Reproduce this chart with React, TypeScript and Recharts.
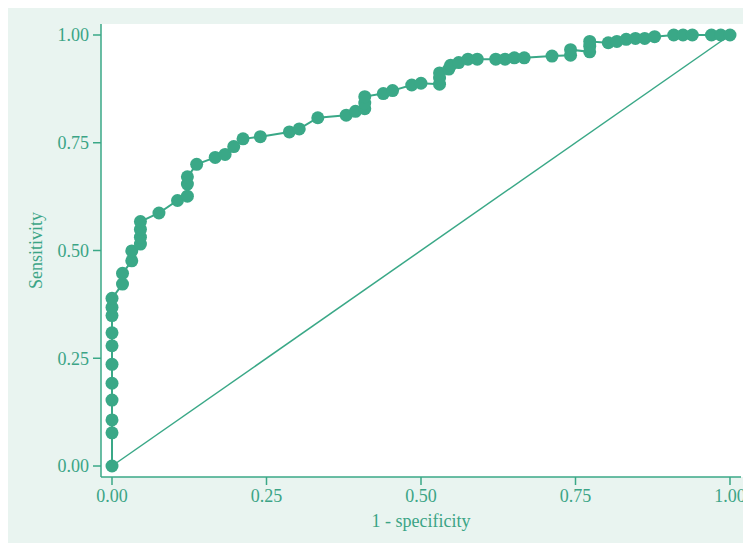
import React from "react";
import {
  ScatterChart,
  Scatter,
  XAxis,
  YAxis,
  ReferenceLine,
} from "recharts";

// 1 - specificity for each cut-off
const fpr = [
  0, 0, 0, 0, 0, 0, 0, 0, 0, 0, 0,
  0.017, 0.017,
  0.032, 0.032,
  0.046, 0.046, 0.046, 0.046,
  0.076, 0.106,
  0.122, 0.122, 0.122,
  0.137, 0.167, 0.183, 0.197, 0.212, 0.24,
  0.287, 0.303, 0.333, 0.379, 0.394,
  0.409, 0.409, 0.409,
  0.439, 0.454, 0.485, 0.5,
  0.53, 0.53, 0.53,
  0.545, 0.548, 0.561, 0.576, 0.591,
  0.621, 0.636, 0.651, 0.667,
  0.712, 0.742, 0.742,
  0.773, 0.773, 0.773,
  0.803, 0.817, 0.832, 0.847, 0.862, 0.878,
  0.909, 0.924, 0.939,
  0.97, 0.985, 1,
];

// sensitivity at the same cut-offs
const tpr = [
  0, 0.077, 0.107, 0.153, 0.192, 0.236, 0.279, 0.309, 0.349, 0.368, 0.389,
  0.422, 0.447,
  0.476, 0.499,
  0.515, 0.531, 0.549, 0.567,
  0.587, 0.616,
  0.626, 0.654, 0.671,
  0.7, 0.716, 0.723, 0.741, 0.759, 0.764,
  0.775, 0.782, 0.808, 0.814, 0.823,
  0.829, 0.842, 0.857,
  0.864, 0.871, 0.884, 0.888,
  0.886, 0.9, 0.912,
  0.921, 0.93, 0.936, 0.944, 0.944,
  0.944, 0.944, 0.947, 0.947,
  0.951, 0.953, 0.966,
  0.961, 0.974, 0.985,
  0.982, 0.985, 0.99, 0.992, 0.992, 0.996,
  1, 1, 1,
  1, 1, 1,
];

const ticks = [0, 0.25, 0.5, 0.75, 1];

const GREEN = "#3aa887";
const TEXT = "#3ba486";
const BG = "#e9f4f0";

const rocData = fpr.map((x, i) => ({ x, y: tpr[i] }));

const Dot = (props: any) => (
  <circle cx={props.cx} cy={props.cy} r={6.5} fill={GREEN} />
);

const tickStyle = {
  fill: TEXT,
  fontSize: 18,
  fontFamily: "Liberation Serif, serif",
};

export default function App() {
  return (
    <div
      style={{
        position: "relative",
        width: 751,
        height: 551,
        margin: -8,
        background: "#fff",
      }}
    >
      <div
        style={{
          position: "absolute",
          left: 4,
          top: 5,
          width: 743,
          height: 541,
          background: BG,
        }}
      />
      <div
        style={{
          position: "absolute",
          left: 101,
          top: 24,
          width: 643,
          height: 453,
          background: "#fff",
        }}
      />
      <div style={{ position: "absolute", left: 0, top: 0 }}>
        <ScatterChart
          width={751}
          height={551}
          margin={{ top: 24, right: 10, bottom: 14, left: 31 }}
        >
          <XAxis
            type="number"
            dataKey="x"
            domain={[-0.0178, 1.0178]}
            ticks={ticks}
            tickFormatter={(v: number) => v.toFixed(2)}
            allowDataOverflow
            height={60}
            stroke={GREEN}
            strokeWidth={1.5}
            tickSize={8}
            tickMargin={4}
            tick={tickStyle}
            label={{
              value: "1 - specificity",
              position: "insideBottom",
              offset: 10,
              fill: TEXT,
              fontSize: 18,
              fontFamily: "Liberation Serif, serif",
            }}
          />
          <YAxis
            type="number"
            dataKey="y"
            domain={[-0.0255, 1.0255]}
            ticks={ticks}
            tickFormatter={(v: number) => v.toFixed(2)}
            allowDataOverflow
            width={70}
            stroke={GREEN}
            strokeWidth={1.5}
            tickSize={8}
            tickMargin={4}
            tick={tickStyle}
            label={{
              value: "Sensitivity",
              angle: -90,
              position: "insideLeft",
              offset: 5,
              fill: TEXT,
              fontSize: 18,
              fontFamily: "Liberation Serif, serif",
              style: { textAnchor: "middle" },
            }}
          />
          <ReferenceLine
            segment={[
              { x: 0, y: 0 },
              { x: 1, y: 1 },
            ]}
            stroke={GREEN}
            strokeWidth={1.5}
          />
          <Scatter
            data={rocData}
            line={{ stroke: GREEN, strokeWidth: 2 }}
            shape={Dot}
            isAnimationActive={false}
          />
        </ScatterChart>
      </div>
    </div>
  );
}
